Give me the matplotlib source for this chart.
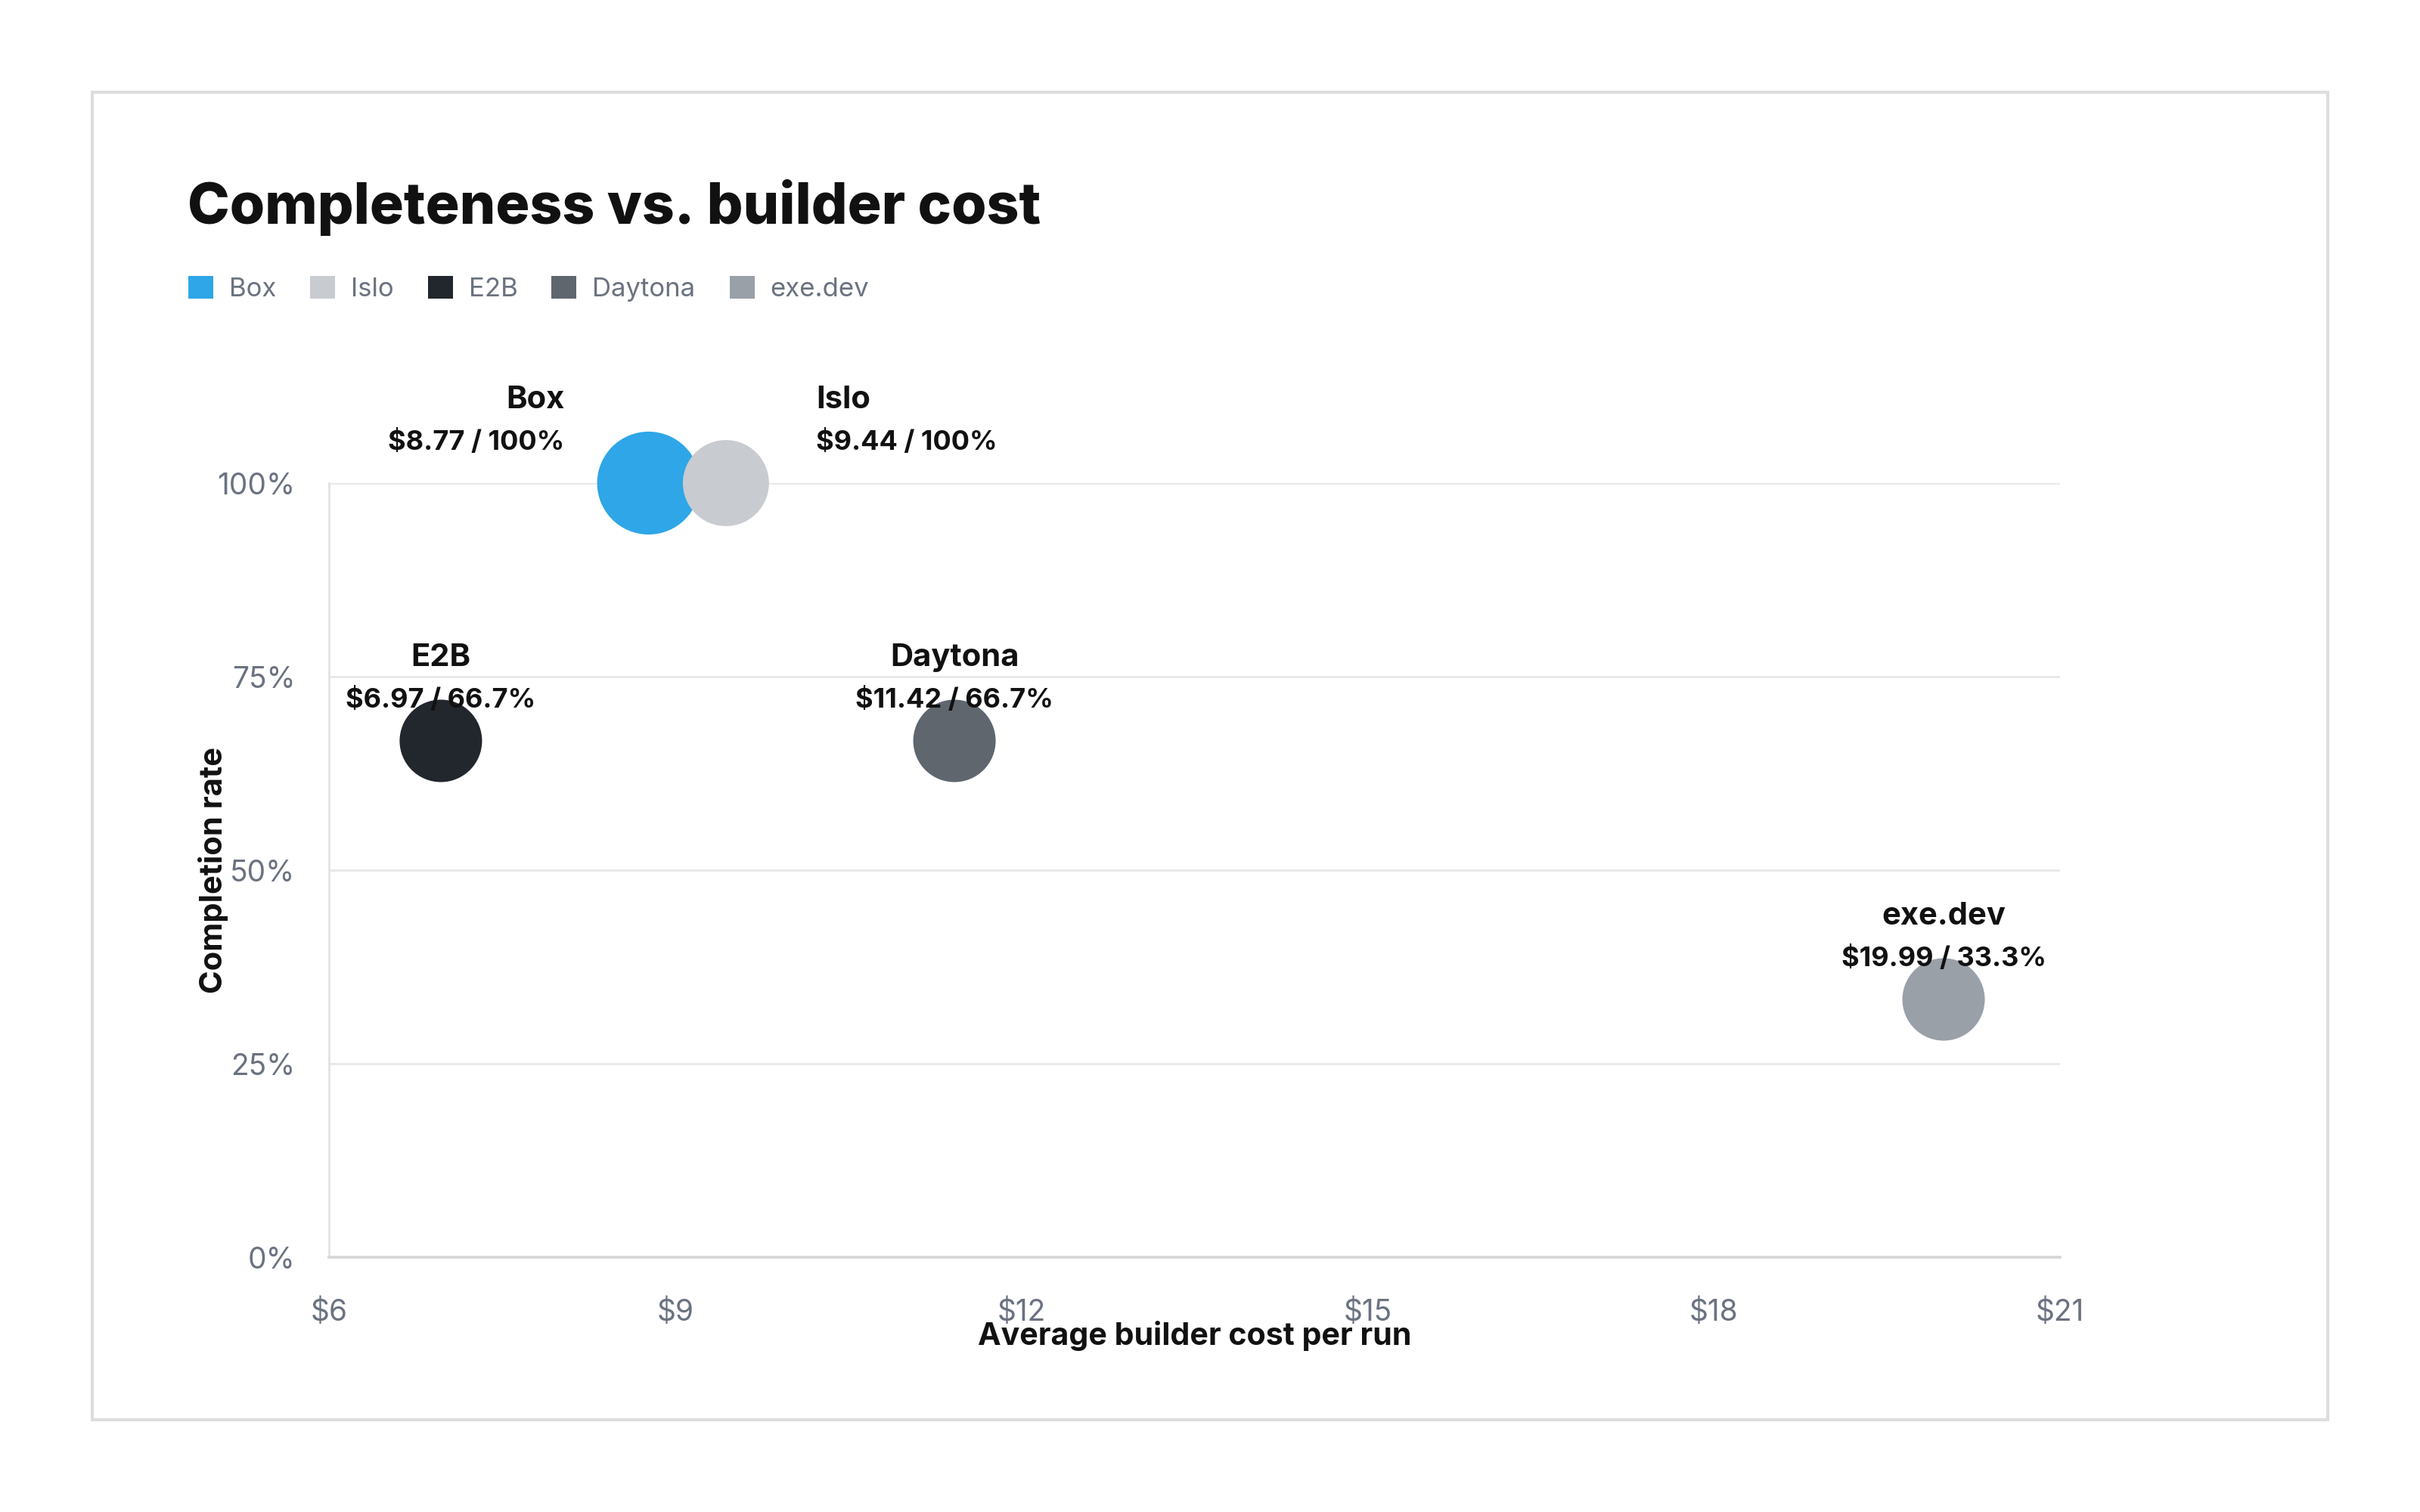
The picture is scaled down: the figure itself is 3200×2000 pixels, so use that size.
import matplotlib
matplotlib.use("Agg")
import matplotlib.pyplot as plt
from matplotlib.patches import Patch, Rectangle

plt.rcParams['font.family'] = ['Inter', 'DejaVu Sans']

# data
names = ['Box', 'Islo', 'E2B', 'Daytona', 'exe.dev']
cost = [8.77, 9.44, 6.97, 11.42, 19.99]
rate = [100, 100, 66.7, 66.7, 33.3]
bubble = [2400, 1680, 1540, 1540, 1540]
colors = ['#2EA6E7', '#C8CBD0', '#22262D', '#5F666E', '#9AA0A8']
xticks = [6, 9, 12, 15, 18, 21]
yticks = [0, 25, 50, 75, 100]

# label placement: (dx points, ha)
place = {'Box': (-40, 'right'), 'Islo': (43, 'left')}

fig = plt.figure(figsize=(16, 10), dpi=200)
fig.patch.set_facecolor('white')
fig.patches.append(Rectangle((0.038, 0.061), 0.924, 0.878, transform=fig.transFigure,
                             fill=False, edgecolor='#dddddd', linewidth=1.5))

ax = fig.add_axes([0.1359, 0.1685, 0.8513 - 0.1359, 0.6805 - 0.1685])
ax.set_xlim(6, 21)
ax.set_ylim(0, 100)

ax.scatter(cost, rate, s=bubble, c=colors, zorder=3, clip_on=False, linewidths=0)

for n, x, y in zip(names, cost, rate):
    dx, ha = place.get(n, (0, 'center'))
    ax.annotate(n, (x, y), xytext=(dx, 39.5), textcoords='offset points', ha=ha, va='center',
                fontsize=15, fontweight='bold', color='#111111', annotation_clip=False, zorder=4)
    val = '${:.2f} / {}%'.format(x, ('%g' % y))
    ax.annotate(val, (x, y), xytext=(dx, 19.5), textcoords='offset points', ha=ha, va='center',
                fontsize=13, fontweight='bold', color='#111111', annotation_clip=False, zorder=4)

ax.set_xticks(xticks)
ax.set_xticklabels(['${}'.format(t) for t in xticks])
ax.set_yticks(yticks)
ax.set_yticklabels(['{}%'.format(t) for t in yticks])
ax.tick_params(length=0, labelsize=14, labelcolor='#6B7280')
ax.tick_params(axis='x', pad=19.5)
ax.tick_params(axis='y', pad=16)

ax.grid(axis='y', color='#e8e8e8', linewidth=1.0)
ax.set_axisbelow(True)
for s in ['top', 'right']:
    ax.spines[s].set_visible(False)
ax.spines['left'].set_color('#e2e2e2')
ax.spines['left'].set_linewidth(1.0)
ax.spines['bottom'].set_color('#d8d8d8')
ax.spines['bottom'].set_linewidth(1.4)

ax.set_xlabel('Average builder cost per run', fontsize=14.8, fontweight='bold', color='#111111')
ax.xaxis.set_label_coords(0.5, -0.102)
ax.xaxis.label.set_va('center')
ax.set_ylabel('Completion rate', fontsize=15, fontweight='bold', color='#111111')
ax.yaxis.set_label_coords(-0.0668, 0.5)
ax.yaxis.label.set_va('center')

fig.text(0.0775, 0.852, 'Completeness vs. builder cost', fontsize=27, fontweight='heavy',
         color='#111111', ha='left', va='baseline')

handles = [Patch(facecolor=c, edgecolor='none', label=n) for n, c in zip(names, colors)]
fig.legend(handles=handles, loc='upper left', bbox_to_anchor=(0.068, 0.833), ncol=5, frameon=False,
           handlelength=0.95, handleheight=0.95, handletextpad=0.6, columnspacing=1.3,
           prop={'size': 12.5}, labelcolor='#6B7280')

fig.savefig('out.png', dpi=200, facecolor='white')
